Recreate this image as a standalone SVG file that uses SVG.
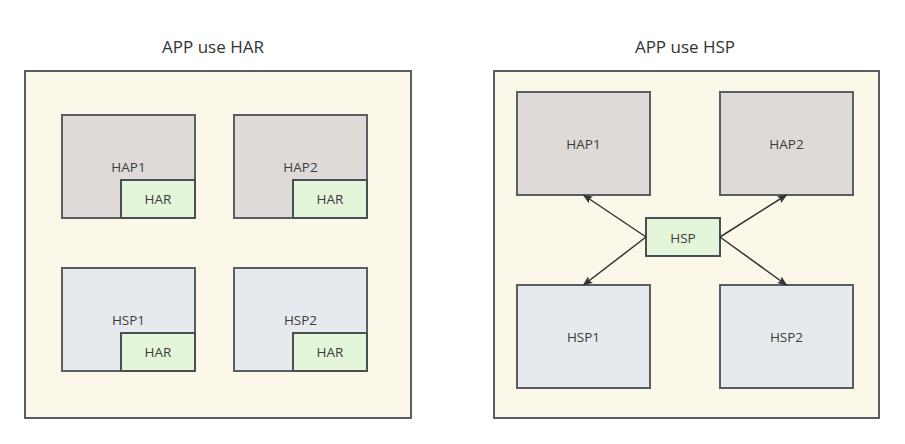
<svg xmlns="http://www.w3.org/2000/svg" width="905" height="444" viewBox="0 0 905 444">
<defs>
<style>
.frame{fill:#fbf8ea;stroke:#595e62;stroke-width:2}
.hap{fill:#dfdad8;stroke:#595e62;stroke-width:2}
.hsp{fill:#e6eaee;stroke:#595e62;stroke-width:2}
.har{fill:#e5f5da;stroke:#475055;stroke-width:2}
.t{font-family:"Open Sans","Noto Sans","Liberation Sans",sans-serif;font-size:13.5px;fill:#3c3c3c;text-anchor:middle;dominant-baseline:central}
.title{font-family:"Open Sans","Noto Sans","Liberation Sans",sans-serif;font-size:17px;fill:#333;text-anchor:middle;dominant-baseline:central}
.edge{stroke:#333;stroke-width:1.5;fill:none}
</style>
<marker id="arr" markerWidth="10" markerHeight="8" refX="9" refY="4" orient="auto" markerUnits="userSpaceOnUse">
<path d="M0,0 L10,4 L0,8 L2,4 Z" fill="#333"/>
</marker>
</defs>
<rect width="905" height="444" fill="#ffffff"/>
<text class="title" x="213" y="46">APP use HAR</text>
<text class="title" x="685" y="46">APP use HSP</text>

<g id="frame-har"><rect class="frame" x="25" y="71" width="386" height="347"/></g>
<g id="frame-hsp"><rect class="frame" x="494" y="71" width="385" height="347"/></g>

<g id="l-hap1"><rect class="hap" x="62" y="115" width="133" height="103"/><text class="t" x="128.5" y="167">HAP1</text>
<rect class="har" x="121" y="180" width="74" height="38"/><text class="t" x="158" y="199">HAR</text></g>
<g id="l-hap2"><rect class="hap" x="234" y="115" width="133" height="103"/><text class="t" x="300.5" y="167">HAP2</text>
<rect class="har" x="293" y="180" width="74" height="38"/><text class="t" x="330" y="199">HAR</text></g>
<g id="l-hsp1"><rect class="hsp" x="62" y="268" width="133" height="103"/><text class="t" x="128.5" y="320">HSP1</text>
<rect class="har" x="121" y="333" width="74" height="38"/><text class="t" x="158" y="352">HAR</text></g>
<g id="l-hsp2"><rect class="hsp" x="234" y="268" width="133" height="103"/><text class="t" x="300.5" y="320">HSP2</text>
<rect class="har" x="293" y="333" width="74" height="38"/><text class="t" x="330" y="352">HAR</text></g>

<g id="r-hap1"><rect class="hap" x="517" y="92" width="133" height="103"/><text class="t" x="583.5" y="144">HAP1</text></g>
<g id="r-hap2"><rect class="hap" x="720" y="92" width="133" height="103"/><text class="t" x="786.5" y="144">HAP2</text></g>
<g id="r-hsp1"><rect class="hsp" x="517" y="285" width="133" height="103"/><text class="t" x="583.5" y="337">HSP1</text></g>
<g id="r-hsp2"><rect class="hsp" x="720" y="285" width="133" height="103"/><text class="t" x="786.5" y="337">HSP2</text></g>
<g id="r-hsp"><rect class="har" x="646" y="218" width="74" height="38"/><text class="t" x="683" y="237.5">HSP</text></g>

<g id="connectors">
<line class="edge" x1="646" y1="237" x2="583.5" y2="195" marker-end="url(#arr)"/>
<line class="edge" x1="646" y1="237" x2="583.5" y2="285" marker-end="url(#arr)"/>
<line class="edge" x1="720" y1="237" x2="786.5" y2="195" marker-end="url(#arr)"/>
<line class="edge" x1="720" y1="237" x2="786.5" y2="285" marker-end="url(#arr)"/>
</g>
</svg>
